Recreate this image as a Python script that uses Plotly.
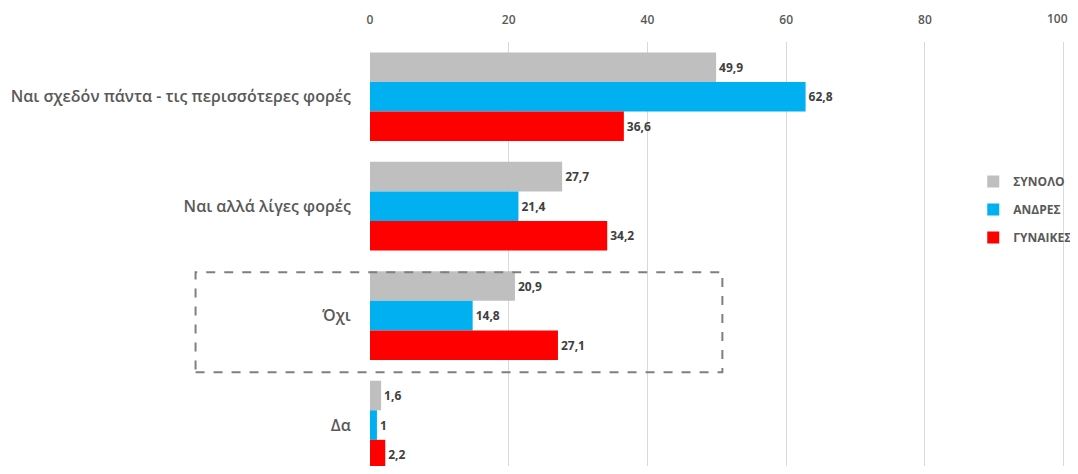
import plotly.graph_objects as go

categories = ["Ναι σχεδόν πάντα - τις περισσότερες φορές", "Ναι αλλά λίγες φορές", "Όχι", "Δα"]
synolo = [49.9, 27.7, 20.9, 1.6]
andres = [62.8, 21.4, 14.8, 1.0]
gynaikes = [36.6, 34.2, 27.1, 2.2]
series_names = ["ΣΥΝΟΛΟ", "ΑΝΔΡΕΣ", "ΓΥΝΑΙΚΕΣ"]
colors = ["#bfbfbf", "#00b0f0", "#ff0000"]
x_ticks = [0, 20, 40, 60, 80, 100]
x_tick_text = ["0", "20", "40", "60", "80", ""]
last_tick_label = "100"


def fmt(v):
    return ("%g" % v).replace(".", ",")


fig = go.Figure()
for name, vals, col in zip(series_names, [synolo, andres, gynaikes], colors):
    fig.add_trace(go.Bar(
        y=categories, x=vals, name=name, orientation="h",
        legendgroup=name,
        marker=dict(color=col, line=dict(width=0)),
        text=[fmt(v) for v in vals], textposition="outside",
        textfont=dict(family="Open Sans", size=12, color="#404040", weight="bold"),
        cliponaxis=False,
    ))

fig.update_layout(
    width=1070, height=458,
    margin=dict(l=362, r=13, t=34, b=0),
    barmode="group", bargap=0.19, bargroupgap=0,
    plot_bgcolor="white", paper_bgcolor="white",
    font=dict(family="Open Sans", color="#595959"),
    xaxis=dict(side="top", range=[0, 100.2], tickvals=x_ticks, ticktext=x_tick_text,
               showgrid=True, gridcolor="#d9d9d9", gridwidth=1, zeroline=False,
               showline=False,
               tickfont=dict(size=12, color="#595959", weight=600), ticks="outside",
               ticklen=12, tickcolor="rgba(0,0,0,0)"),
    yaxis=dict(range=[3.374, -0.5], showgrid=False, zeroline=False,
               tickfont=dict(size=16, color="#595959", weight=600), ticks="outside",
               ticklen=15, tickcolor="rgba(0,0,0,0)"),
    legend=dict(x=0.868, y=0.705, xanchor="left", yanchor="top",
                font=dict(size=12, color="#595959", weight="bold"),
                bgcolor="rgba(0,0,0,0)", tracegroupgap=9),
    showlegend=True,
)

fig.add_annotation(x=x_ticks[-1], xref="x", y=1, yref="paper",
                   text=last_tick_label, showarrow=False,
                   xanchor="right", yanchor="middle", yshift=24, xshift=6,
                   font=dict(size=12, color="#595959", weight=600))

fig.add_shape(type="rect", xref="paper", yref="paper",
              x0=-0.251, x1=0.507, y0=0.221, y1=0.457,
              line=dict(color="#7f7f7f", width=2, dash="dash"),
              fillcolor="rgba(0,0,0,0)", layer="above")

fig.write_html("out.html")
